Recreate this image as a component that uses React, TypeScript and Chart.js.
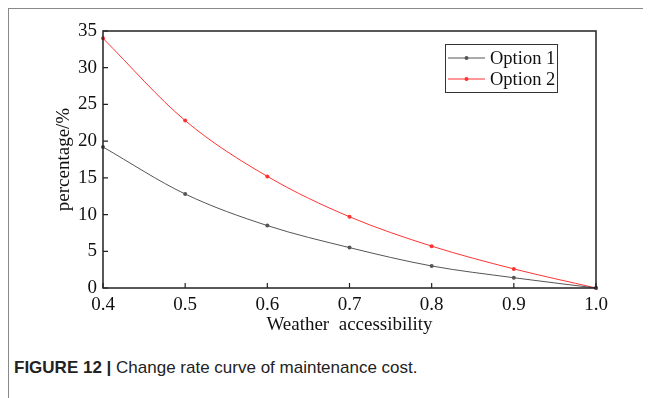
import React, { useEffect, useRef } from "react";
import { Chart, registerables } from "chart.js";

Chart.register(...registerables);

const xValues = [0.4, 0.5, 0.6, 0.7, 0.8, 0.9, 1.0];
const option1 = [19.2, 12.8, 8.5, 5.5, 3.0, 1.4, 0.0];
const option2 = [34.0, 22.8, 15.2, 9.7, 5.7, 2.6, 0.0];
const seriesNames = ["Option 1", "Option 2"];
const seriesColors = ["#555555", "#ff3333"];

const SERIF = "'Liberation Serif', 'Times New Roman', serif";

const framePlugin = {
  id: "frame",
  afterDraw(chart: any) {
    const { ctx, chartArea } = chart;
    const { left, right, top, bottom } = chartArea;
    const xs = chart.scales.x;
    const ys = chart.scales.y;
    ctx.save();
    ctx.strokeStyle = "#222";
    ctx.lineWidth = 1.5;
    ctx.strokeRect(left, top, right - left, bottom - top);
    ctx.lineWidth = 1.2;
    ctx.beginPath();
    xs.ticks.forEach((t: any) => {
      const px = xs.getPixelForValue(t.value);
      ctx.moveTo(px, bottom);
      ctx.lineTo(px, bottom - 5);
    });
    ys.ticks.forEach((t: any) => {
      const py = ys.getPixelForValue(t.value);
      ctx.moveTo(left, py);
      ctx.lineTo(left + 5, py);
    });
    ctx.stroke();

    // legend box
    const bx = right - 151;
    const by = top + 13;
    const bw = 112;
    const bh = 48;
    ctx.strokeStyle = "#333";
    ctx.lineWidth = 1;
    ctx.strokeRect(bx + 0.5, by + 0.5, bw, bh);
    ctx.font = "18.5px " + SERIF;
    ctx.textBaseline = "middle";
    ctx.textAlign = "left";
    chart.data.datasets.forEach((ds: any, i: number) => {
      const cy = by + 14 + i * 21;
      ctx.strokeStyle = ds.borderColor;
      ctx.lineWidth = 1;
      ctx.beginPath();
      ctx.moveTo(bx + 3, cy);
      ctx.lineTo(bx + 40, cy);
      ctx.stroke();
      ctx.fillStyle = ds.borderColor;
      ctx.beginPath();
      ctx.arc(bx + 21.5, cy, 2, 0, Math.PI * 2);
      ctx.fill();
      ctx.fillStyle = "#111";
      ctx.fillText(ds.label, bx + 45, cy + 1);
    });
    ctx.restore();
  },
};

export default function App() {
  const ref = useRef<HTMLCanvasElement>(null);
  useEffect(() => {
    if (!ref.current) return;
    const mk = (vals: number[]) => xValues.map((x, i) => ({ x, y: vals[i] }));
    const chart = new Chart(ref.current, {
      type: "line",
      data: {
        datasets: [option1, option2].map((vals, i) => ({
          label: seriesNames[i],
          data: mk(vals),
          borderColor: seriesColors[i],
          backgroundColor: seriesColors[i],
          borderWidth: 1,
          pointRadius: 2,
          pointHoverRadius: 2,
          pointBorderWidth: 0,
          cubicInterpolationMode: "monotone" as const,
          fill: false,
          clip: false as any,
        })),
      },
      options: {
        animation: false,
        responsive: false,
        maintainAspectRatio: false,
        layout: { padding: { top: 22, right: 55, bottom: 13, left: 44 } },
        plugins: { legend: { display: false }, tooltip: { enabled: false } },
        scales: {
          x: {
            type: "linear",
            min: 0.4,
            max: 1.0,
            grid: { display: false, drawTicks: false },
            border: { display: false },
            ticks: {
              stepSize: 0.1,
              padding: 6,
              color: "#111",
              font: { family: SERIF, size: 19 },
              maxRotation: 0,
              callback: (v: any) => Number(v).toFixed(1),
            },
            title: {
              display: true,
              text: "Weather  accessibility",
              color: "#111",
              font: { family: SERIF, size: 19 },
              padding: { top: 0, bottom: 0 },
            },
            afterFit: (s: any) => {
              s.height = 48;
            },
          },
          y: {
            min: 0,
            max: 35,
            grid: { display: false, drawTicks: false },
            border: { display: false },
            ticks: {
              stepSize: 5,
              padding: 6,
              color: "#111",
              font: { family: SERIF, size: 19 },
            },
            title: {
              display: true,
              text: "percentage/%",
              color: "#111",
              font: { family: SERIF, size: 19 },
              padding: { top: 0, bottom: 0 },
            },
            afterFit: (s: any) => {
              s.width = 50;
            },
          },
        },
      },
      plugins: [framePlugin],
    });
    return () => chart.destroy();
  }, []);

  return (
    <div
      style={{
        width: 643,
        height: 390,
        borderTop: "1px solid #888",
        borderLeft: "1px solid #888",
        boxSizing: "border-box",
        overflow: "hidden",
      }}
    >
      <canvas ref={ref} width={642} height={340} style={{ display: "block" }} />
      <div
        style={{
          fontFamily: "'Liberation Sans', Arial, sans-serif",
          fontSize: 17,
          lineHeight: "20px",
          paddingLeft: 5,
          marginTop: 9,
          color: "#222",
        }}
      >
        <b>FIGURE 12 |</b> Change rate curve of maintenance cost.
      </div>
    </div>
  );
}
